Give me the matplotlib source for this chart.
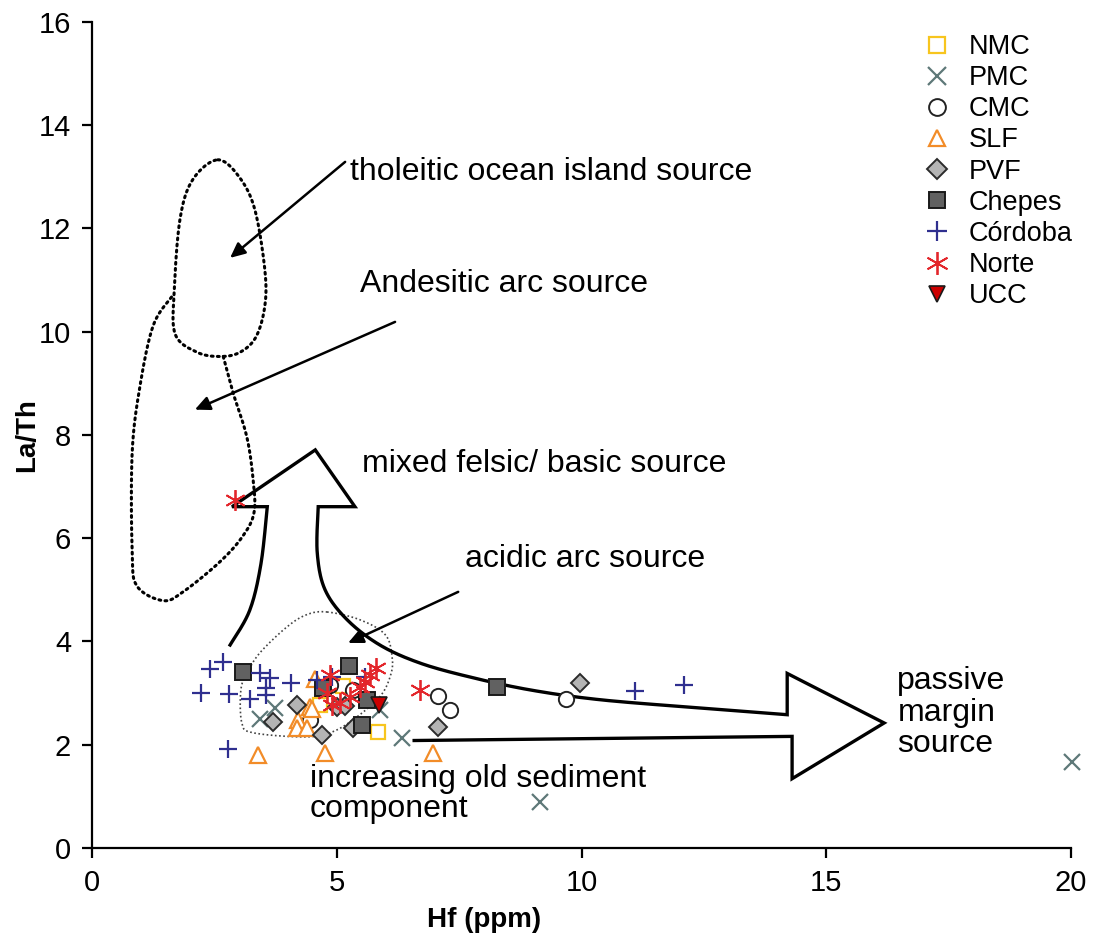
import numpy as np
import matplotlib
matplotlib.use("Agg")
import matplotlib.pyplot as plt

plt.rcParams['font.family'] = ['Liberation Sans', 'DejaVu Sans']

# ---------------- data ----------------
nmc_x = [5.84, 5.13, 4.66]
nmc_y = [2.25, 3.14, 2.77]

pmc_x = [3.74, 3.43, 5.88, 6.33, 9.15, 20.02]
pmc_y = [2.71, 2.50, 2.67, 2.13, 0.89, 1.67]

cmc_x = [7.07, 7.31, 9.68, 4.86, 5.33, 4.45]
cmc_y = [2.95, 2.67, 2.89, 3.16, 3.06, 2.48]

slf_x = [3.39, 4.76, 6.97, 4.55, 4.45, 4.21, 4.19, 4.39, 4.49]
slf_y = [1.80, 1.84, 1.84, 3.28, 2.73, 2.48, 2.33, 2.33, 2.70]

pvf_x = [3.70, 4.19, 4.70, 5.33, 5.00, 5.17, 7.07, 9.97]
pvf_y = [2.44, 2.77, 2.19, 2.33, 2.73, 2.75, 2.35, 3.20]

chepes_x = [3.08, 5.25, 4.72, 5.62, 5.52, 8.27]
chepes_y = [3.41, 3.52, 3.10, 2.87, 2.38, 3.12]

cordoba_x = [2.41, 2.68, 2.23, 2.80, 3.23, 3.43, 3.64, 3.55, 3.55, 4.07, 4.60,
             4.90, 5.58, 2.78, 11.09, 12.09]
cordoba_y = [3.47, 3.60, 3.00, 2.98, 2.89, 3.39, 3.29, 3.10, 2.97, 3.20, 3.26,
             3.31, 3.31, 1.92, 3.04, 3.16]

norte_x = [2.92, 4.86, 5.80, 5.68, 4.80, 4.90, 5.47, 5.27, 5.07, 5.58, 6.70]
norte_y = [6.74, 3.35, 3.49, 3.35, 3.00, 2.77, 3.12, 2.93, 2.81, 3.22, 3.06]

ucc_x = [5.86]
ucc_y = [2.77]

# ---------------- figure ----------------
fig = plt.figure(figsize=(10.93, 9.40), dpi=100)
ax = fig.add_axes([0.0842, 0.098, 0.8958, 0.8786])
ax.set_xlim(0, 20)
ax.set_ylim(0, 16)
ax.set_xticks([0, 5, 10, 15, 20])
ax.set_yticks(range(0, 17, 2))
for s in ['top', 'right']:
    ax.spines[s].set_visible(False)
for s in ['left', 'bottom']:
    ax.spines[s].set_linewidth(1.6)
ax.tick_params(axis='both', labelsize=21, length=7, width=1.6, direction='out', pad=8)
ax.set_xlabel('Hf (ppm)', fontsize=20, fontweight='bold', labelpad=8)
ax.xaxis.set_label_coords(0.40, -0.072)
ax.set_ylabel('La/Th', fontsize=20, fontweight='bold', labelpad=-1)


def catmull(pts, closed=True, n=20):
    P = np.array(pts, dtype=float)
    if closed:
        P = np.vstack([P[-1], P, P[0], P[1]])
    else:
        P = np.vstack([P[0], P, P[-1]])
    out = []
    for i in range(1, len(P) - 2):
        p0, p1, p2, p3 = P[i - 1], P[i], P[i + 1], P[i + 2]
        for t in np.linspace(0, 1, n, endpoint=False):
            t2, t3 = t * t, t * t * t
            out.append(0.5 * ((2 * p1) + (-p0 + p2) * t +
                              (2 * p0 - 5 * p1 + 4 * p2 - p3) * t2 +
                              (-p0 + 3 * p1 - 3 * p2 + p3) * t3))
    out.append(P[-2])
    return np.array(out)


dot_ls = (0, (0.6, 1.4))

# tholeitic ocean island field
thol = [(2.57, 13.33), (3.02, 12.98), (3.33, 12.35), (3.53, 11.2), (3.53, 10.5),
        (3.35, 9.9), (3.02, 9.6), (2.62, 9.52), (2.15, 9.6), (1.70, 9.95),
        (1.68, 10.81), (1.80, 12.2), (2.06, 12.95)]
c = catmull(thol, closed=True)
ax.plot(c[:, 0], c[:, 1], color='black', lw=2.2, ls=dot_ls,
        dash_capstyle='round', zorder=2)

# andesitic arc field (open, joins tholeitic field)
ande = [(2.68, 9.52), (2.88, 8.82), (3.16, 7.97), (3.29, 7.14), (3.31, 6.50),
        (3.08, 6.04), (2.61, 5.54), (1.86, 4.96), (1.45, 4.79), (0.92, 5.07),
        (0.82, 5.73), (0.82, 7.66), (0.98, 8.95), (1.25, 10.12), (1.63, 10.68)]
c = catmull(ande, closed=False)
ax.plot(c[:, 0], c[:, 1], color='black', lw=2.2, ls=dot_ls,
        dash_capstyle='round', zorder=2)

# acidic arc field
acid = [(4.80, 4.57), (5.47, 4.42), (5.99, 4.13), (6.13, 3.70), (6.10, 3.35),
        (5.88, 2.93), (5.33, 2.48), (4.86, 2.23), (4.31, 2.15), (3.29, 2.23),
        (3.06, 2.42), (3.04, 3.06), (3.17, 3.39), (3.43, 3.78), (3.98, 4.28),
        (4.39, 4.52)]
c = catmull(acid, closed=True)
ax.plot(c[:, 0], c[:, 1], color='#444444', lw=1.2, ls=(0, (1, 1.5)), zorder=2)

# big arrow outline (up arrow + right arrow)
left_shaft = catmull([(2.82, 3.93), (3.22, 4.6), (3.45, 5.5), (3.58, 6.61)],
                     closed=False)
right_curve = catmull([(4.62, 6.61), (4.60, 5.72), (4.76, 5.00), (5.21, 4.42),
                       (5.88, 3.93), (6.70, 3.58), (7.72, 3.31), (8.95, 3.06),
                       (10.38, 2.87), (12.42, 2.71), (14.20, 2.58)], closed=False)
outline = np.vstack([
    left_shaft,
    [(2.86, 6.61), (4.56, 7.71), (5.37, 6.61)],
    right_curve,
    [(14.20, 3.38), (16.18, 2.42), (14.30, 1.34), (14.30, 2.16), (6.58, 2.08)],
])
ax.plot(outline[:, 0], outline[:, 1], color='black', lw=2.4,
        solid_joinstyle='miter', zorder=3)

# thin annotation arrows
arrow_kw = dict(arrowstyle='-|>,head_length=0.9,head_width=0.42', color='black',
                lw=1.8, shrinkA=0, shrinkB=0)
ax.annotate('', xy=(2.82, 11.43), xytext=(5.17, 13.29), arrowprops=arrow_kw, zorder=3)
ax.annotate('', xy=(2.10, 8.49), xytext=(6.19, 10.19), arrowprops=arrow_kw, zorder=3)
ax.annotate('', xy=(5.23, 3.97), xytext=(7.48, 4.96), arrowprops=arrow_kw, zorder=3)

# labels
tkw = dict(fontsize=23, va='center', ha='left', zorder=4)
ax.text(5.27, 13.10, 'tholeitic ocean island source', **tkw)
ax.text(5.47, 10.92, 'Andesitic arc source', **tkw)
ax.text(5.52, 7.44, 'mixed felsic/ basic source', **tkw)
ax.text(7.62, 5.60, 'acidic arc source', **tkw)
ax.text(4.45, 1.05, 'increasing old sediment\ncomponent', fontsize=23,
        va='center', ha='left', linespacing=1.0, zorder=4)
ax.text(16.45, 2.62, 'passive\nmargin\nsource', fontsize=23, va='center',
        ha='left', linespacing=1.05, zorder=4)

# data series
ms = 10
ax.plot(nmc_x, nmc_y, 's', ms=ms, mfc='white', mec='#F7C51E', mew=1.6,
        ls='none', label='NMC', zorder=5)
ax.plot(pmc_x, pmc_y, 'x', ms=ms + 2, mec='#5E7878', mew=1.6,
        ls='none', label='PMC', zorder=5, clip_on=False)
ax.plot(cmc_x, cmc_y, 'o', ms=ms + 1, mfc='white', mec='#222222', mew=1.4,
        ls='none', label='CMC', zorder=5)
ax.plot(slf_x, slf_y, '^', ms=ms + 1, mfc='white', mec='#F28C28', mew=1.6,
        ls='none', label='SLF', zorder=5)
ax.plot(pvf_x, pvf_y, 'D', ms=ms - 1, mfc='#B4B4B4', mec='#2B2B2B', mew=1.4,
        ls='none', label='PVF', zorder=5)
ax.plot(chepes_x, chepes_y, 's', ms=ms + 1, mfc='#616161', mec='#1A1A1A', mew=1.4,
        ls='none', label='Chepes', zorder=5)
ax.plot(cordoba_x, cordoba_y, '+', ms=ms + 3, mec='#2F2F8F', mew=1.6,
        ls='none', label='Córdoba', zorder=5)
ax.plot(norte_x, norte_y, marker=(6, 2, 0), ms=ms + 5, mec='#E3262B', mew=1.3,
        ls='none', label='Norte', zorder=5)
ax.plot(ucc_x, ucc_y, 'v', ms=ms + 1, mfc='#CC0000', mec='#1A1A1A', mew=1.2,
        ls='none', label='UCC', zorder=6)

leg = ax.legend(loc='upper left', bbox_to_anchor=(923 / 1093, 1 - 34 / 940),
                bbox_transform=fig.transFigure, frameon=False, fontsize=19.5,
                handlelength=1.0, handletextpad=0.7, labelspacing=0.19,
                borderpad=0.0, borderaxespad=0.0, numpoints=1, markerscale=1.1)

fig.savefig('out.png', dpi=100, facecolor='white')
